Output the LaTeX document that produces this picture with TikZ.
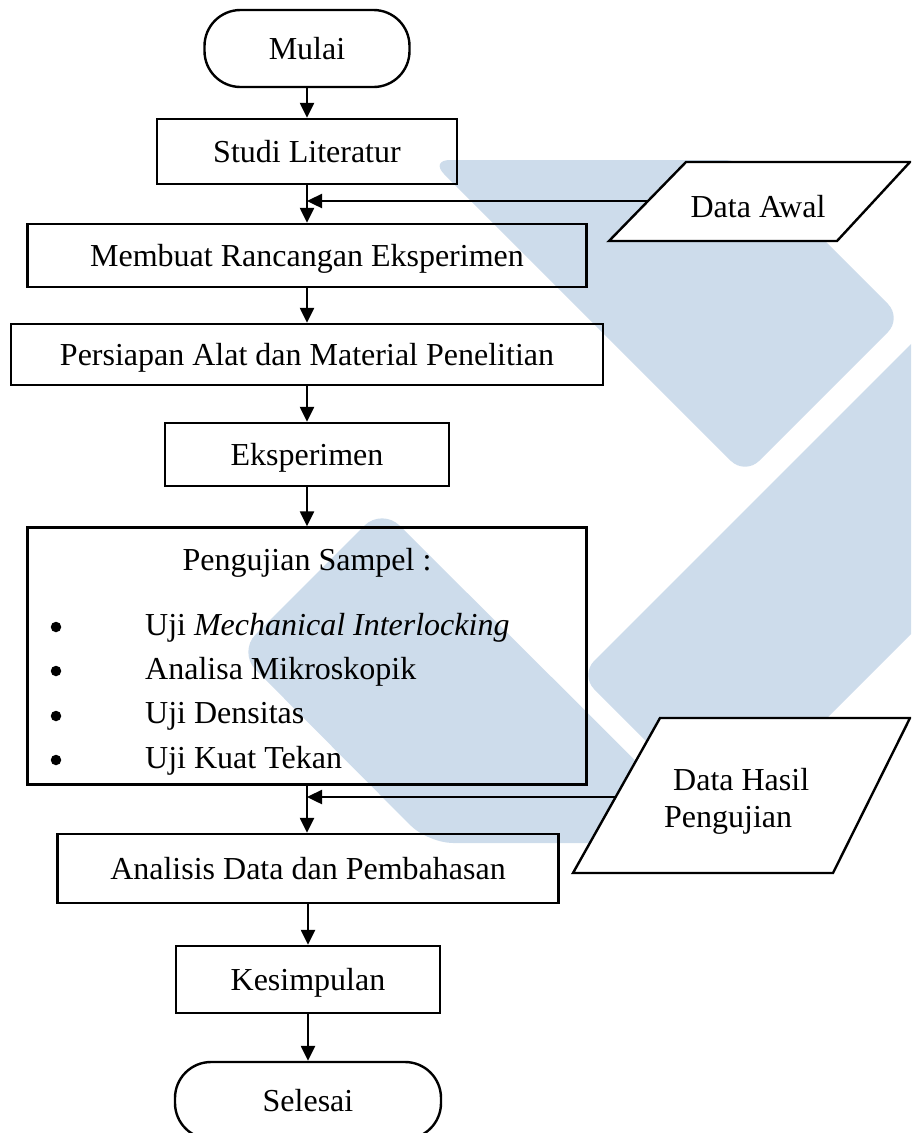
\documentclass[tikz,border=0pt]{standalone}
\usepackage{fontspec}
\setmainfont{Liberation Serif}
\usetikzlibrary{arrows.meta}
\definecolor{wm}{RGB}{205,220,235}
\begin{document}
\begin{tikzpicture}[x=1pt,y=-1pt,
  every node/.style={font=\fontsize{32}{38}\selectfont},
  box/.style={draw, line width=2.4pt, rectangle, inner sep=0pt, text height=21pt, text depth=0pt},
  term/.style={box, rounded corners=36pt},
  conn/.style={line width=2.4pt, -{Triangle[width=14pt,length=15pt]}},
  para/.style={draw, line width=2.4pt, fill=white, line join=miter},
  txt/.style={inner sep=0pt, text height=21pt, text depth=0pt},
  dot/.style={circle, fill=black, inner sep=0pt, minimum size=10.5pt}
]
\useasboundingbox (0,0) rectangle (911,1133);
\clip (0,0) rectangle (911,1133);
% watermark
\fill[wm, rounded corners=20pt] (430,160) -- (744,160) -- (902,318) -- (745,475) -- cycle;
\fill[wm, rounded corners=25pt] (428,843) -- (238,652) -- (382,508) -- (718,843) -- cycle;
\fill[wm, rounded corners=20pt] (580,675) -- (1000,255) -- (1000,545) -- (725,820) -- cycle;
% main nodes
\node[term, minimum width=205pt, minimum height=77pt] (mulai) at (307,48.5) {Mulai};
\node[box, minimum width=300pt, minimum height=65pt] (studi) at (307,151.5) {Studi Literatur};
\node[box, minimum width=559pt, minimum height=63pt] (rancang) at (307,255.5) {Membuat Rancangan Eksperimen};
\node[box, minimum width=592pt, minimum height=61pt] (persiapan) at (307,354.5) {Persiapan Alat dan Material Penelitian};
\node[box, minimum width=284pt, minimum height=63pt] (eksp) at (307,454.5) {Eksperimen};
\node[box, minimum width=559pt, minimum height=257pt] (uji) at (307,656) {};
\node[box, minimum width=501pt, minimum height=69pt] (analisis) at (308,868.5) {Analisis Data dan Pembahasan};
\node[box, minimum width=264pt, minimum height=67pt] (simpul) at (308,979.5) {Kesimpulan};
\node[term, minimum width=266pt, minimum height=77pt] (selesai) at (308,1100.5) {Selesai};
% contents of uji
\node[txt, anchor=base] (ujititle) at (307,570) {Pengujian Sampel :};
\node[dot] (b1) at (56,627) {};
\node[dot] (b2) at (56,671) {};
\node[dot] (b3) at (56,716) {};
\node[dot] (b4) at (56,760) {};
\node[txt, anchor=base west] (u1) at (145,635) {Uji \textit{Mechanical Interlocking}};
\node[txt, anchor=base west] (u2) at (145,679) {Analisa Mikroskopik};
\node[txt, anchor=base west] (u3) at (145,723) {Uji Densitas};
\node[txt, anchor=base west] (u4) at (145,768) {Uji Kuat Tekan};
% inputs
\draw[para] (609,241) -- (837,241) -- (910,162) -- (686,162) -- cycle;
\node[txt] (awal) at (758,207) {Data Awal};
\coordinate (awalin) at (648,201);
\draw[para] (573,873) -- (833,873) -- (910,718) -- (660,718) -- cycle;
\node[txt, anchor=base west] (dh1) at (673,790) {Data Hasil};
\node[txt, anchor=base west] (dh2) at (664,827) {Pengujian};
\coordinate (hasilin) at (616,797);
% connectors
\draw[conn] (mulai.south) -- (studi.north);
\draw[conn] (studi.south) -- (rancang.north);
\draw[conn] (awalin) -- (studi.south |- awalin);
\draw[conn] (rancang.south) -- (persiapan.north);
\draw[conn] (persiapan.south) -- (eksp.north);
\draw[conn] (eksp.south) -- (uji.north);
\draw[conn] (uji.south) -- (uji.south |- analisis.north);
\draw[conn] (hasilin) -- (uji.south |- hasilin);
\draw[conn] (analisis.south) -- (simpul.north);
\draw[conn] (simpul.south) -- (selesai.north);
\end{tikzpicture}
\end{document}
